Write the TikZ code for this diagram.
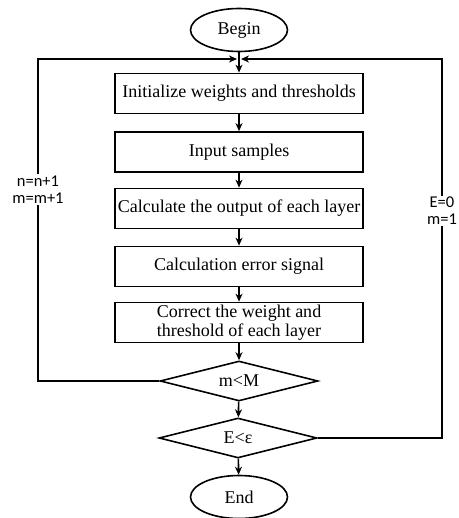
\documentclass[tikz,border=0pt]{standalone}
\usepackage{fontspec}
\setmainfont{Liberation Serif}
\newfontfamily\labelfont{Carlito}
\usetikzlibrary{shapes.geometric,arrows.meta}
\tikzset{
	every node/.style={font=\fontsize{18}{19}\selectfont},
	flow/.style={line width=1.6pt},
	stepbox/.style={draw, line width=1.7pt, minimum width=248pt, minimum height=40pt, inner sep=0pt, align=center},
	term/.style={draw, ellipse, line width=1.6pt, minimum width=97pt, minimum height=43pt, inner sep=0pt},
	test/.style={draw, diamond, aspect=4, line width=1.6pt, minimum width=158pt, minimum height=40pt, inner sep=0pt},
	sidelabel/.style={font=\labelfont\fontsize{16.5}{17}\selectfont, align=center, inner xsep=0pt, inner ysep=1pt},
	>={Stealth[length=8pt,width=7pt,inset=2.5pt]}
}
\begin{document}
\begin{tikzpicture}[x=1pt,y=-1pt]
	\useasboundingbox (0,0) rectangle (458,518);
	\node[term] (begin) at (239,30) {Begin};
	\node[stepbox] (init) at (239,93.5) {Initialize weights and thresholds};
	\node[stepbox] (input) at (239,152) {Input samples};
	\node[stepbox] (output) at (239,208.5) {Calculate the output of each layer};
	\node[stepbox] (error) at (239,266.5) {Calculation error signal};
	\node[stepbox] (correct) at (239,322.5) {Correct the weight and\\threshold of each layer};
	\node[test] (mless) at (239,381) {m<M};
	\node[test] (eless) at (238,438) {E<ε};
	\node[term] (end) at (239,497) {End};
	\node[sidelabel] (nlabel) at (38,189.5) {n=n+1\\m=m+1};
	\node[sidelabel] (elabel) at (442,211) {E=0\\m=1};
	\coordinate (joinL) at (237,59);
	\coordinate (joinR) at (241,59);
	% main column
	\draw[flow,->] (begin) -- (init);
	\draw[flow,->] (init) -- (input);
	\draw[flow,->] (input) -- (output);
	\draw[flow,->] (output) -- (error);
	\draw[flow,->] (error) -- (correct);
	\draw[flow,->] (correct) -- (mless);
	\draw[flow,->] (mless) -- (eless);
	\draw[flow,->] (eless) -- (end);
	% loops back to the top
	\draw[flow] (mless.west) -| (nlabel.south);
	\draw[flow,->] (nlabel.north) |- (joinL);
	\draw[flow] (eless.east) -| (elabel.south);
	\draw[flow,->] (elabel.north) |- (joinR);
\end{tikzpicture}
\end{document}
